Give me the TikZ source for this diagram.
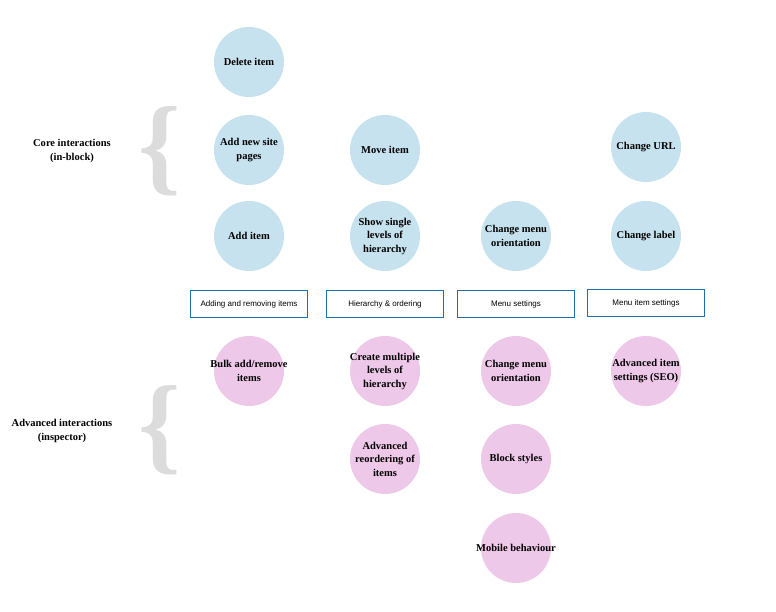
\documentclass[tikz,border=0pt]{standalone}
\usepackage{fontspec}
\newfontfamily\boxfont{Liberation Sans}
\newfontfamily\circfont{Liberation Serif}
\usepackage{tikz}
\usetikzlibrary{positioning}
\definecolor{coreblue}{HTML}{C6E2EE}
\definecolor{advpink}{HTML}{EEC8E9}
\definecolor{boxline}{HTML}{1E6DB0}
\definecolor{bracegray}{HTML}{DCDCDC}
\begin{document}
\begin{tikzpicture}[
            x=1pt, y=-1pt,
            core/.style={circle, fill=coreblue, minimum size=70pt, inner sep=0pt},
            adv/.style={core, fill=advpink},
            txt/.style={align=center, inner sep=0pt, font=\circfont\bfseries\fontsize{10.5}{13.5}\selectfont},
            group/.style={rectangle, draw=boxline, line width=1.2pt, minimum height=27pt, minimum width=117pt, font=\boxfont\fontsize{8}{9}\selectfont},
            side/.style={align=center, font=\circfont\bfseries\fontsize{10.5}{13.5}\selectfont},
            bracket/.style={text=bracegray, font=\circfont\bfseries\fontsize{108}{108}\selectfont, inner sep=0pt}
        ]
        \useasboundingbox (0,0) rectangle (776,612);

        % core interactions
        \node[core, label={[txt]center:Delete item}] (delete) at (249,62) {};
        \node[core, label={[txt]center:Add new site\\pages}] (addpages) at (249,150) {};
        \node[core, label={[txt]center:Add item}] (additem) at (249,236) {};
        \node[core, label={[txt]center:Move item}] (move) at (385,150) {};
        \node[core, label={[txt]center:Show single\\levels of\\hierarchy}] (single) at (385,236) {};
        \node[core, label={[txt]center:Change menu\\orientation}] (orient) at (516,236) {};
        \node[core, label={[txt]center:Change URL}] (url) at (646,147) {};
        \node[core, label={[txt]center:Change label}] (label) at (646,236) {};

        % groups
        \node[group] (adding) at (249,304) {Adding and removing items};
        \node[group] (hier) at (385,304) {Hierarchy \& ordering};
        \node[group] (menu) at (516,304) {Menu settings};
        \node[group] (itemset) at (646,303) {Menu item settings};

        % advanced interactions
        \node[adv, label={[txt]center:Bulk add/remove\\items}] (bulk) at (249,371) {};
        \node[adv, label={[txt]center:Create multiple\\levels of\\hierarchy}] (multi) at (385,371) {};
        \node[adv, label={[txt]center:Advanced\\reordering of\\items}] (reorder) at (385,459) {};
        \node[adv, label={[txt]center:Change menu\\orientation}] (orient2) at (516,371) {};
        \node[adv, label={[txt]center:Block styles}] (styles) at (516,459) {};
        \node[adv, label={[txt]center:Mobile behaviour}] (mobile) at (516,548) {};
        \node[adv, label={[txt]center:Advanced item\\settings (SEO)}] (seo) at (646,371) {};

        % side labels
        \node[side] (corelbl) at (72,151) {Core interactions\\(in-block)};
        \node[side] (advlbl) at (62,431) {Advanced interactions\\(inspector)};
        \node[bracket] (corebr) at (160,151) {\{};
        \node[bracket] (advbr) at (160,430) {\{};

    \end{tikzpicture}
\end{document}
